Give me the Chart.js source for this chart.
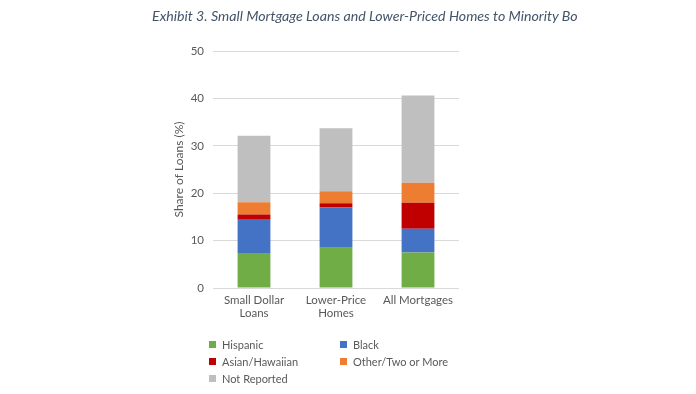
<!DOCTYPE html>
<html>
<head>
<meta charset="utf-8">
<script src="https://cdn.jsdelivr.net/npm/chart.js@4"></script>
<style>
  html, body { margin: 0; padding: 0; background: #fff; }
  #wrap { position: relative; width: 696px; height: 394px; overflow: hidden; font-family: Lato, "Open Sans", sans-serif; }
  #title { position: absolute; left: 152px; top: 7px; width: 425px; overflow: hidden; white-space: nowrap;
           font-style: italic; font-size: 14.2px; color: #44546A; line-height: 18px; }
  #chart { position: absolute; left: 0; top: 0; }
  #legend { position: absolute; left: 208px; top: 337px; display: grid; grid-template-columns: 131px 160px;
            row-gap: 2px; font-size: 11px; color: #595959; }
  .item { display: flex; align-items: center; height: 15px; white-space: nowrap; }
  .sw { width: 7px; height: 7px; margin-right: 6px; margin-left: 1px; }
</style>
</head>
<body>
<div id="wrap">
  <canvas id="chart" width="696" height="394"></canvas>
  <div id="title">Exhibit 3. Small Mortgage Loans and Lower-Priced Homes to Minority Borrowers</div>
  <div id="legend"></div>
</div>
<script>
const categories = [["Small Dollar", "Loans"], ["Lower-Price", "Homes"], "All Mortgages"];
const seriesNames = ["Hispanic", "Black", "Asian/Hawaiian", "Other/Two or More", "Not Reported"];
const hispanic = [7.4, 8.5, 7.5];
const black = [7.0, 8.5, 5.0];
const asianHawaiian = [1.1, 0.9, 5.5];
const otherTwoOrMore = [2.6, 2.5, 4.2];
const notReported = [14.0, 13.3, 18.4];
const yTicks = [0, 10, 20, 30, 40, 50];
const yTitle = "Share of Loans (%)";

const colors = ["#70AD47", "#4472C4", "#C00000", "#ED7D31", "#BFBFBF"];
const values = [hispanic, black, asianHawaiian, otherTwoOrMore, notReported];

const datasets = seriesNames.map((name, i) => ({
  label: name,
  data: values[i],
  backgroundColor: colors[i],
  borderWidth: 0,
  categoryPercentage: 1.0,
  barPercentage: 0.4
}));

const fontFamily = "Lato, 'Open Sans', sans-serif";

new Chart(document.getElementById("chart"), {
  type: "bar",
  data: { labels: categories, datasets: datasets },
  options: {
    responsive: false,
    animation: false,
    layout: { padding: { left: 165, right: 237, top: 51, bottom: 66 } },
    plugins: { legend: { display: false }, tooltip: { enabled: false }, title: { display: false } },
    scales: {
      x: {
        stacked: true,
        grid: { display: false, drawTicks: false },
        border: { display: false },
        ticks: { color: "#595959", font: { family: fontFamily, size: 11.5 }, padding: 5, maxRotation: 0, autoSkip: false },
        afterFit: (s) => { s.height = 40; }
      },
      y: {
        stacked: true,
        min: 0,
        max: 50,
        afterBuildTicks: (s) => { s.ticks = yTicks.map(v => ({ value: v })); },
        grid: { color: "#D9D9D9", lineWidth: 1, drawTicks: false },
        border: { display: false },
        ticks: { color: "#595959", font: { family: fontFamily, size: 11.5 }, padding: 9 },
        title: { display: true, text: yTitle, color: "#595959", font: { family: fontFamily, size: 12 }, padding: { top: 7, bottom: 0 } },
        afterFit: (s) => { s.width = 48; }
      }
    }
  }
});

const legend = document.getElementById("legend");
seriesNames.forEach((name, i) => {
  const item = document.createElement("div");
  item.className = "item";
  const sw = document.createElement("span");
  sw.className = "sw";
  sw.style.background = colors[i];
  const tx = document.createElement("span");
  tx.textContent = name;
  item.appendChild(sw);
  item.appendChild(tx);
  legend.appendChild(item);
});
</script>
</body>
</html>
